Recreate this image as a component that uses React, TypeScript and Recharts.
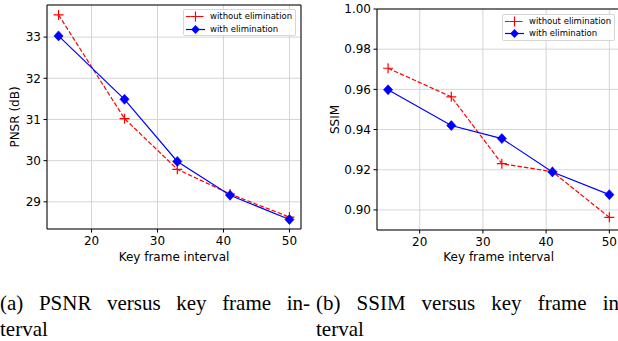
import { CartesianGrid, Line, LineChart, ReferenceArea, XAxis, YAxis } from "recharts";

const keyFrameIntervals = [15, 25, 33, 41, 50];
const psnrWithout = [33.54, 31.02, 29.79, 29.19, 28.63];
const psnrWith = [33.03, 31.49, 29.98, 29.16, 28.57];
const ssimWithout = [0.9705, 0.9563, 0.923, 0.919, 0.8963];
const ssimWith = [0.9598, 0.942, 0.9355, 0.9189, 0.9076];

const xTicks = [20, 30, 40, 50];
const psnrTicks = [29, 30, 31, 32, 33];
const ssimTicks = [0.9, 0.92, 0.94, 0.96, 0.98, 1.0];

const seriesNames = ["without elimination", "with elimination"];

const RED = "#ff0000";
const BLUE = "#0000ff";
const SANS = "DejaVu Sans";
const X_DOMAIN: [number, number] = [13.25, 51.75];

const PlusDot = (p: any) => {
  const { cx, cy } = p;
  if (cx == null || cy == null) return null;
  return (
    <path
      d={`M${cx - 5},${cy}H${cx + 5}M${cx},${cy - 5}V${cy + 5}`}
      stroke={RED}
      strokeWidth={1.2}
      fill="none"
    />
  );
};

const DiamondDot = (p: any) => {
  const { cx, cy } = p;
  if (cx == null || cy == null) return null;
  return (
    <path
      d={`M${cx},${cy - 5}L${cx + 4.6},${cy}L${cx},${cy + 5}L${cx - 4.6},${cy}Z`}
      fill={BLUE}
      stroke={BLUE}
      strokeWidth={0.6}
    />
  );
};

function LegendBox({ left, top, gap }: { left: number; top: number; gap: number }) {
  return (
    <div
      style={{
        position: "absolute",
        left,
        top,
        width: 113,
        height: 27,
        border: "1px solid #d6d6d6",
        borderRadius: 2,
        background: "rgba(255,255,255,0.85)",
        boxSizing: "border-box",
      }}
    >
      <svg width={111} height={25} style={{ position: "absolute", left: 0, top: 0 }}>
        <line x1={2} x2={21} y1={6.5} y2={6.5} stroke={RED} strokeWidth={1.2} strokeDasharray="4.5 2" />
        <path d={`M6.5,6.5H16.5M11.5,1.5V11.5`} stroke={RED} strokeWidth={1.2} />
        <line x1={2} x2={21} y1={6.5 + gap} y2={6.5 + gap} stroke={BLUE} strokeWidth={1.2} />
        <path
          d={`M11.5,${6.5 + gap - 4.6}L15.8,${6.5 + gap}L11.5,${6.5 + gap + 4.6}L7.2,${6.5 + gap}Z`}
          fill={BLUE}
        />
        {seriesNames.map((name, i) => (
          <text
            key={name}
            x={26}
            y={6.5 + i * gap}
            dy="0.35em"
            fontFamily={SANS}
            fontSize={8.5}
            fill="#000"
          >
            {name}
          </text>
        ))}
      </svg>
    </div>
  );
}

function Panel({
  width,
  marginTop,
  marginRight,
  yWidth,
  xHeight,
  yDomain,
  yTicks,
  yFormat,
  yLabel,
  yLabelX,
  without,
  withElim,
}: {
  width: number;
  marginTop: number;
  marginRight: number;
  yWidth: number;
  xHeight: number;
  yDomain: [number, number];
  yTicks: number[];
  yFormat: (v: number) => string;
  yLabel: string;
  yLabelX: number;
  without: number[];
  withElim: number[];
}) {
  const data = keyFrameIntervals.map((x, i) => ({ x, without: without[i], withElim: withElim[i] }));
  const tickStyle = { fontSize: 12, fill: "#000", fontFamily: SANS };
  return (
    <LineChart
      width={width}
      height={270}
      data={data}
      margin={{ top: marginTop, right: marginRight, bottom: 0, left: 0 }}
    >
      <CartesianGrid stroke="#d0d0d0" strokeWidth={0.9} />
      <XAxis
        dataKey="x"
        type="number"
        domain={X_DOMAIN}
        ticks={xTicks}
        allowDataOverflow
        height={xHeight}
        axisLine={false}
        tickLine={{ stroke: "#000" }}
        tickSize={3.5}
        tickMargin={3.5}
        tick={tickStyle}
        interval={0}
        label={{
          content: (props: any) => {
            const vb = props.viewBox;
            return (
              <text
                x={vb.x + vb.width / 2}
                y={261}
                textAnchor="middle"
                fontFamily={SANS}
                fontSize={12}
                fill="#000"
              >
                Key frame interval
              </text>
            );
          },
        }}
      />
      <YAxis
        type="number"
        domain={yDomain}
        ticks={yTicks}
        allowDataOverflow
        width={yWidth}
        axisLine={false}
        tickLine={{ stroke: "#000" }}
        tickSize={3.5}
        tickMargin={2.5}
        tick={tickStyle}
        tickFormatter={yFormat}
        interval={0}
        label={{
          content: (props: any) => {
            const vb = props.viewBox;
            const cy = vb.y + vb.height / 2;
            return (
              <text
                x={yLabelX}
                y={cy}
                transform={`rotate(-90 ${yLabelX} ${cy})`}
                textAnchor="middle"
                dominantBaseline="central"
                fontFamily={SANS}
                fontSize={12}
                fill="#000"
              >
                {yLabel}
              </text>
            );
          },
        }}
      />
      <ReferenceArea
        x1={X_DOMAIN[0]}
        x2={X_DOMAIN[1]}
        y1={yDomain[0]}
        y2={yDomain[1]}
        fill="none"
        fillOpacity={0}
        stroke="#000"
        strokeWidth={1}
        ifOverflow="visible"
      />
      <Line
        dataKey="without"
        stroke={RED}
        strokeWidth={1.2}
        strokeDasharray="4.5 2"
        dot={(p: any) => <PlusDot key={`p${p.index}`} {...p} />}
        activeDot={false}
        isAnimationActive={false}
      />
      <Line
        dataKey="withElim"
        stroke={BLUE}
        strokeWidth={1.2}
        dot={(p: any) => <DiamondDot key={`d${p.index}`} {...p} />}
        activeDot={false}
        isAnimationActive={false}
      />
    </LineChart>
  );
}

const captionStyle: React.CSSProperties = {
  position: "absolute",
  top: 291,
  width: 310,
  fontFamily: "Liberation Serif",
  fontSize: 21,
  lineHeight: "25.5px",
  color: "#000",
};

export default function App() {
  return (
    <div
      style={{
        position: "absolute",
        left: 0,
        top: 0,
        width: 618,
        height: 341,
        overflow: "hidden",
        background: "#fff",
      }}
    >
      <div style={{ position: "absolute", left: 0, top: 0 }}>
        <Panel
          width={310}
          marginTop={5}
          marginRight={9}
          yWidth={47}
          xHeight={41}
          yDomain={[28.34, 33.78]}
          yTicks={psnrTicks}
          yFormat={(v) => String(v)}
          yLabel="PNSR (dB)"
          yLabelX={15}
          without={psnrWithout}
          withElim={psnrWith}
        />
      </div>
      <div style={{ position: "absolute", left: 310, top: 0 }}>
        <Panel
          width={330}
          marginTop={9}
          marginRight={19.6}
          yWidth={67}
          xHeight={40}
          yDomain={[0.89, 1.0]}
          yTicks={ssimTicks}
          yFormat={(v) => v.toFixed(2)}
          yLabel="SSIM"
          yLabelX={25}
          without={ssimWithout}
          withElim={ssimWith}
        />
      </div>
      <LegendBox left={183} top={9} gap={13} />
      <LegendBox left={502} top={14} gap={12} />
      <div style={{ ...captionStyle, left: 0 }}>
        <div style={{ textAlign: "justify", textAlignLast: "justify" }}>(a) PSNR versus key frame in-</div>
        <div>terval</div>
      </div>
      <div style={{ ...captionStyle, left: 316 }}>
        <div style={{ textAlign: "justify", textAlignLast: "justify" }}>(b) SSIM versus key frame in-</div>
        <div>terval</div>
      </div>
    </div>
  );
}
